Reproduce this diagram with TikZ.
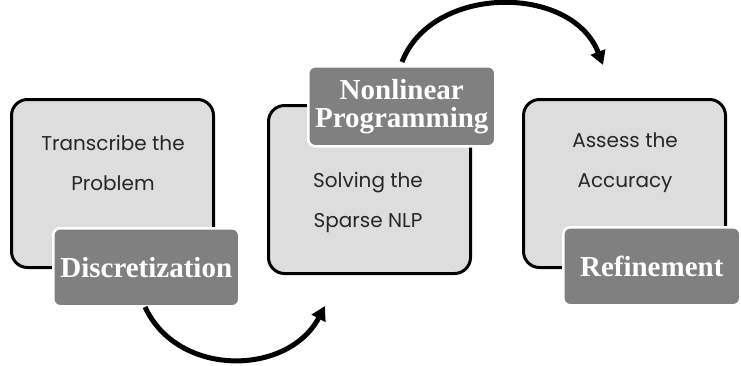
\documentclass[tikz,border=0pt]{standalone}
\usepackage{fontspec}
\setmainfont{Liberation Serif}
\newfontfamily\bodyfont{Poppins}
\usetikzlibrary{arrows.meta}
\definecolor{boxfill}{HTML}{DDDDDD}
\definecolor{labfill}{HTML}{808080}
\tikzset{
  stagebox/.style={draw=black, line width=3pt, fill=boxfill, rounded corners=16pt,
    minimum width=#1, anchor=north west, inner sep=0pt},
  stagelabel/.style={draw=white, line width=2.5pt, fill=labfill, rounded corners=7pt,
    anchor=north west, inner sep=0pt},
  bodytext/.style={font=\bodyfont\fontsize{20}{40}\selectfont, text=black!85, align=center},
  labtext/.style={font=\fontsize{29}{28}\selectfont\bfseries, text=white, align=center},
  flow/.style={line width=5pt, -{Triangle[length=14pt,width=15pt]}}
}
\begin{document}
\begin{tikzpicture}[x=1pt,y=-1pt]
\useasboundingbox (0,0) rectangle (741,365);
% boxes
\node[stagebox=202pt, minimum height=168pt] (b1) at (10,98) {};
\node[stagebox=202pt, minimum height=168pt] (b2) at (267,104) {};
\node[stagebox=202pt, minimum height=168pt] (b3) at (522,98) {};
% body texts
\node[bodytext] (t1) at (113,163) {Transcribe the\\Problem};
\node[bodytext] (t2) at (368,202) {Solving the\\Sparse NLP};
\node[bodytext] (t3) at (625,163) {Assess the\\Accuracy};
% labels
\node[stagelabel, minimum width=186pt, minimum height=78pt] (l1) at (52,227) {};
\node[stagelabel, minimum width=187pt, minimum height=80pt] (l2) at (307,65) {};
\node[stagelabel, minimum width=177pt, minimum height=78pt] (l3) at (562,226) {};
\node[labtext] (lt1) at (l1.center) {Discretization};
\node[labtext] (lt2) at (l2.center) {Nonlinear\\Programming};
\node[labtext] (lt3) at (l3.center) {Refinement};
% connectors
\coordinate (a1s) at (145,307);
\coordinate (a1e) at (325,306);
\coordinate (a2s) at (402,62);
\coordinate (a2e) at (603,65);
\draw[flow] (a1s) .. controls (178,378) and (288,376) .. (a1e);
\draw[flow] (a2s) .. controls (432,-16) and (572,-16) .. (a2e);
\end{tikzpicture}
\end{document}
